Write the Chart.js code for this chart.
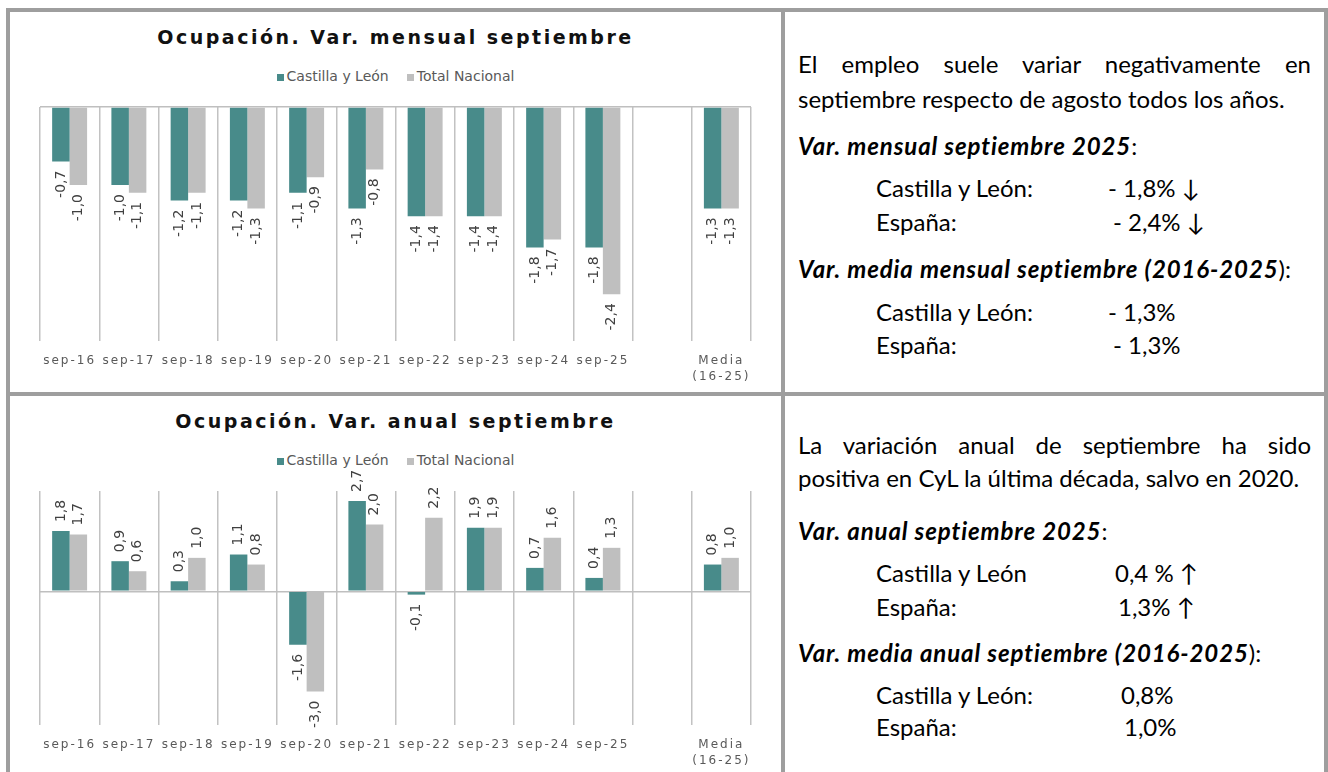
<!DOCTYPE html>
<html lang="es">
<head>
<meta charset="utf-8">
<title>Ocupación. Variación septiembre</title>
<script src="https://cdn.jsdelivr.net/npm/chart.js@4.4.1/dist/chart.umd.min.js"></script>
<style>
  body { margin: 0; background: #fff; width: 1328px; height: 772px; overflow: hidden; position: relative; }
  .rule { position: absolute; background: #9e9e9e; }
  .chartcell { position: absolute; left: 10px; width: 771px; height: 380px; }
  .chartcell .wrap { position: absolute; left: 0; top: 0; width: 771px; height: 380px; }
  .ttl { position: absolute; left: 0; right: 0; top: 14px; text-align: center; font: bold 19px 'DejaVu Sans', sans-serif; letter-spacing: 2.5px; color: #111; }
  .leg { position: absolute; left: 0; right: 0; top: 56px; text-align: center; font: 14px 'DejaVu Sans', sans-serif; color: #595959; line-height: 16px; }
  .leg .item { margin: 0 9px; }
  .leg i { display: inline-block; width: 7px; height: 7px; margin-right: 3px; }
  .txt { position: absolute; left: 798px; width: 513px; font: 24px Lato, sans-serif; color: #000; line-height: 30px; white-space: nowrap; }
  .txt.just { white-space: normal; text-align: justify; text-align-last: justify; }
  .txt b { letter-spacing: 0.9px; }
  .txt .lab { margin-left: 78px; }
  .txt .val { position: absolute; top: 0; }
</style>
</head>
<body>
<div class="rule" style="left:6px;top:8px;width:1322px;height:4px"></div>
<div class="rule" style="left:6px;top:392px;width:1322px;height:4px"></div>
<div class="rule" style="left:6px;top:776px;width:1322px;height:4px"></div>
<div class="rule" style="left:6px;top:8px;width:4px;height:772px"></div>
<div class="rule" style="left:781px;top:8px;width:4px;height:772px"></div>
<div class="rule" style="left:1324px;top:8px;width:4px;height:772px"></div>

<div class="chartcell" style="top:12px">
  <div class="ttl">Ocupación. Var. mensual septiembre</div>
  <div class="leg" id="leg1"></div>
  <div class="wrap"><canvas id="chart1"></canvas></div>
</div>
<div class="chartcell" style="top:396px">
  <div class="ttl">Ocupación. Var. anual septiembre</div>
  <div class="leg" id="leg2"></div>
  <div class="wrap"><canvas id="chart2"></canvas></div>
</div>

<div class="txt just" style="top:49px">El empleo suele variar negativamente en</div>
<div class="txt" style="top:84px">septiembre respecto de agosto todos los años.</div>
<div class="txt" style="top:131px"><b><i>Var. mensual septiembre 2025</i></b>:</div>
<div class="txt" style="top:173px"><span class="lab">Castilla y León:</span><span class="val" style="left:310px">- 1,8% ↓</span></div>
<div class="txt" style="top:207px"><span class="lab">España:</span><span class="val" style="left:315px">- 2,4% ↓</span></div>
<div class="txt" style="top:254px"><b><i>Var. media mensual septiembre (2016-2025</i></b>):</div>
<div class="txt" style="top:297px"><span class="lab">Castilla y León:</span><span class="val" style="left:310px">- 1,3%</span></div>
<div class="txt" style="top:330px"><span class="lab">España:</span><span class="val" style="left:315px">- 1,3%</span></div>

<div class="txt just" style="top:430px">La variación anual de septiembre ha sido</div>
<div class="txt" style="top:463px">positiva en CyL la última década, salvo en 2020.</div>
<div class="txt" style="top:516px"><b><i>Var. anual septiembre 2025</i></b>:</div>
<div class="txt" style="top:558px"><span class="lab">Castilla y León</span><span class="val" style="left:317px">0,4 % ↑</span></div>
<div class="txt" style="top:592px"><span class="lab">España:</span><span class="val" style="left:320px">1,3% ↑</span></div>
<div class="txt" style="top:638px"><b><i>Var. media anual septiembre (2016-2025</i></b>):</div>
<div class="txt" style="top:680px"><span class="lab">Castilla y León:</span><span class="val" style="left:323px">0,8%</span></div>
<div class="txt" style="top:712px"><span class="lab">España:</span><span class="val" style="left:326px">1,0%</span></div>

<script>
const categories = ['sep-16', 'sep-17', 'sep-18', 'sep-19', 'sep-20', 'sep-21', 'sep-22', 'sep-23', 'sep-24', 'sep-25', '', ['Media', '(16-25)']];
const seriesNames = ['Castilla y León', 'Total Nacional'];
const seriesColors = ['#488B8A', '#BFBFBF'];

// variación mensual septiembre (%)
const mensualCyL = [-0.7, -1.0, -1.2, -1.2, -1.1, -1.3, -1.4, -1.4, -1.8, -1.8, null, -1.3];
const mensualNac = [-1.0, -1.1, -1.1, -1.3, -0.9, -0.8, -1.4, -1.4, -1.7, -2.4, null, -1.3];
const mensualRange = [-3, 0];

// variación anual septiembre (%)
const anualCyL = [1.8, 0.9, 0.3, 1.1, -1.6, 2.7, -0.1, 1.9, 0.7, 0.4, null, 0.8];
const anualNac = [1.7, 0.6, 1.0, 0.8, -3.0, 2.0, 2.2, 1.9, 1.6, 1.3, null, 1.0];
const anualRange = [-4, 3];

const fmt = v => v.toFixed(1).replace('.', ',');

// wide tracking for the category labels, as in the original
const tickSpacing = {
    id: 'tickSpacing',
    beforeDraw(chart) { chart.ctx.letterSpacing = '2px'; },
    afterDraw(chart) { chart.ctx.letterSpacing = '0px'; }
};

// rotated value labels at the end of every bar
const valueLabels = {
    id: 'valueLabels',
    afterDatasetsDraw(chart) {
        const ctx = chart.ctx;
        ctx.save();
        ctx.letterSpacing = '0px';
        ctx.font = '14px "DejaVu Sans"';
        ctx.fillStyle = '#404040';
        ctx.textBaseline = 'middle';
        chart.data.datasets.forEach((ds, i) => {
            chart.getDatasetMeta(i).data.forEach((bar, j) => {
                const v = ds.data[j];
                if (v === null) return;
                ctx.save();
                ctx.translate(bar.x, bar.y + (v < 0 ? 9 : -9));
                ctx.rotate(-Math.PI / 2);
                ctx.textAlign = v < 0 ? 'right' : 'left';
                ctx.fillText(fmt(v), 0, 0);
                ctx.restore();
            });
        });
        ctx.restore();
    }
};

function makeChart(id, legendId, cyl, nac, range) {
    const chart = new Chart(document.getElementById(id), {
        type: 'bar',
        data: {
            labels: categories,
            datasets: [
                { label: seriesNames[0], data: cyl, backgroundColor: seriesColors[0] },
                { label: seriesNames[1], data: nac, backgroundColor: seriesColors[1] }
            ]
        },
        options: {
            responsive: true,
            maintainAspectRatio: false,
            animation: false,
            categoryPercentage: 0.59,
            barPercentage: 1,
            layout: { padding: { left: 30, right: 30, top: 95, bottom: 0 } },
            plugins: {
                legend: { display: false },
                tooltip: { enabled: false }
            },
            scales: {
                x: {
                    grid: { offset: true, color: '#C2C2C2', lineWidth: 1.5, drawTicks: false },
                    border: { display: false },
                    ticks: {
                        color: '#595959',
                        font: { family: 'DejaVu Sans', size: 12, lineHeight: 1.4 },
                        padding: 11,
                        maxRotation: 0,
                        autoSkip: false
                    },
                    afterFit: s => { s.height = 51; }
                },
                y: {
                    min: range[0],
                    max: range[1],
                    grid: {
                        color: c => c.tick && c.tick.value === 0 ? '#BFBFBF' : 'rgba(0,0,0,0)',
                        lineWidth: 1.5,
                        drawTicks: false
                    },
                    border: { display: false },
                    ticks: { display: false },
                    afterFit: s => { s.width = 0; }
                }
            }
        },
        plugins: [tickSpacing, valueLabels]
    });

    // legend built from the chart's own datasets
    document.getElementById(legendId).innerHTML = chart.data.datasets.map(ds =>
        '<span class="item"><i style="background:' + ds.backgroundColor + '"></i>' + ds.label + '</span>'
    ).join('');
    return chart;
}

makeChart('chart1', 'leg1', mensualCyL, mensualNac, mensualRange);
makeChart('chart2', 'leg2', anualCyL, anualNac, anualRange);
</script>
</body>
</html>
